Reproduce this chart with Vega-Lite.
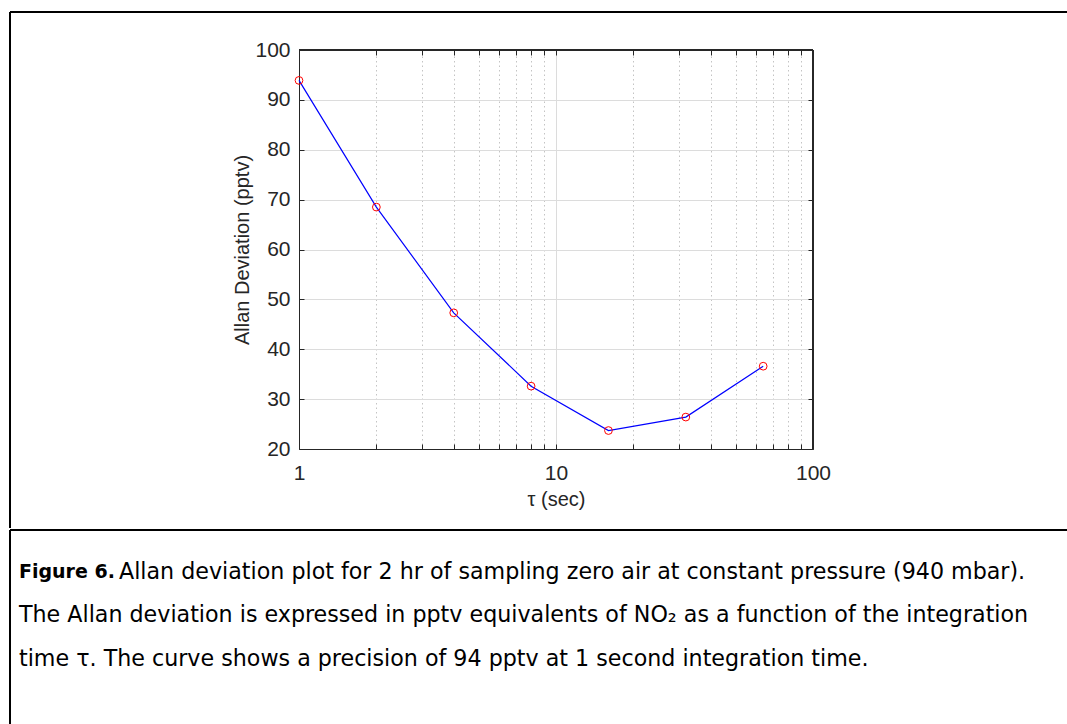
{
  "$schema": "https://vega.github.io/schema/vega-lite/v6.json",
  "background": "white",
  "padding": {"left": 9, "top": 11, "right": 0, "bottom": 0},
  "spacing": 0,
  "config": {"view": {"stroke": null}, "concat": {"spacing": 0}},
  "vconcat": [
    {
      "width": 1058,
      "height": 516,
      "view": {"stroke": "black", "strokeWidth": 2, "strokeDash": [1058, 1574, 516, 0]},
      "data": {
        "values": [
          {"tau": 1, "ad": 93.9},
          {"tau": 2, "ad": 68.5},
          {"tau": 4, "ad": 47.3},
          {"tau": 8, "ad": 32.6},
          {"tau": 16, "ad": 23.7},
          {"tau": 32, "ad": 26.4},
          {"tau": 64, "ad": 36.6}
        ]
      },
      "layer": [
        {
          "mark": {"type": "rule", "color": "#262626", "strokeWidth": 1},
          "encoding": {
            "x": {"datum": 1, "type": "quantitative", "axis": null},
            "x2": {"datum": 100},
            "y": {"datum": 100, "type": "quantitative", "axis": null}
          }
        },
        {
          "mark": {"type": "rule", "color": "#262626", "strokeWidth": 1},
          "encoding": {
            "x": {"datum": 100, "type": "quantitative", "axis": null},
            "y": {
              "datum": 20,
              "type": "quantitative",
              "scale": {"domain": [20, 100], "range": [437, 38], "nice": false, "zero": false},
              "axis": {
                "orient": "right",
                "offset": -255,
                "title": null,
                "values": [20, 30, 40, 50, 60, 70, 80, 90, 100],
                "labels": false,
                "domain": false,
                "grid": false,
                "ticks": true,
                "tickSize": -5,
                "tickColor": "#262626"
              }
            },
            "y2": {"datum": 100}
          }
        },
        {
          "mark": {"type": "line", "color": "#0000ff", "strokeWidth": 1.2},
          "encoding": {
            "x": {
              "field": "tau",
              "type": "quantitative",
              "scale": {"type": "log", "domain": [1, 100], "range": [289, 803], "nice": false},
              "axis": {
                "orient": "top",
                "offset": -38,
                "title": null,
                "values": [1, 2, 3, 4, 5, 6, 7, 8, 9, 10, 20, 30, 40, 50, 60, 70, 80, 90, 100],
                "labels": false,
                "domain": false,
                "ticks": true,
                "tickSize": -5,
                "tickColor": "#262626",
                "grid": true,
                "gridColor": {"condition": {"test": "indexof([1, 10, 100], datum.value) >= 0", "value": "#dcdcdc"}, "value": "#c4c4c4"},
                "gridDash": {"condition": {"test": "indexof([1, 10, 100], datum.value) >= 0", "value": []}, "value": [1.5, 3]},
                "gridWidth": 1
              }
            },
            "y": {
              "field": "ad",
              "type": "quantitative",
              "scale": {"domain": [20, 100], "range": [437, 38], "nice": false, "zero": false},
              "axis": {
                "title": "Allan Deviation (pptv)",
                "orient": "left",
                "offset": -289,
                "values": [20, 30, 40, 50, 60, 70, 80, 90, 100],
                "grid": true,
                "gridColor": "#dcdcdc",
                "gridWidth": 1,
                "tickSize": -5,
                "tickColor": "#262626",
                "domainColor": "#262626",
                "labelFont": "Liberation Sans",
                "labelFontSize": 21,
                "labelColor": "#262626",
                "labelPadding": 14,
                "titleFont": "Liberation Sans",
                "titleFontSize": 20,
                "titleFontWeight": "normal",
                "titleColor": "#262626",
                "titlePadding": 2
              }
            }
          }
        },
        {
          "mark": {"type": "point", "shape": "circle", "filled": false, "color": "#ff0000", "size": 60, "strokeWidth": 1, "opacity": 1},
          "encoding": {
            "x": {
              "field": "tau",
              "type": "quantitative",
              "scale": {"type": "log", "domain": [1, 100], "range": [289, 803], "nice": false},
              "axis": {
                "title": "τ (sec)",
                "orient": "bottom",
                "offset": -79,
                "values": [1, 2, 3, 4, 5, 6, 7, 8, 9, 10, 20, 30, 40, 50, 60, 70, 80, 90, 100],
                "labelExpr": "indexof([1, 10, 100], datum.value) >= 0 ? format(datum.value, 'd') : ''",
                "labelOverlap": false,
                "labelFlush": false,
                "grid": false,
                "tickSize": -5,
                "tickColor": "#262626",
                "domainColor": "#262626",
                "labelFont": "Liberation Sans",
                "labelFontSize": 21,
                "labelColor": "#262626",
                "labelPadding": 18,
                "titleFont": "Liberation Sans",
                "titleFontSize": 20,
                "titleFontWeight": "normal",
                "titleColor": "#262626",
                "titlePadding": 6
              }
            },
            "y": {"field": "ad", "type": "quantitative", "axis": null}
          }
        }
      ],
      "resolve": {"axis": {"x": "independent", "y": "independent"}}
    },
    {
      "width": 1058,
      "height": 197,
      "view": {"stroke": "black", "strokeWidth": 2, "strokeDash": [1058, 1255, 197, 0]},
      "data": {
        "values": [
          {"line": 1, "part": "bold", "text": "Figure 6."},
          {"line": 1, "part": "rest", "text": "Allan deviation plot for 2 hr of sampling zero air at constant pressure (940 mbar)."},
          {"line": 2, "part": "rest", "text": "The Allan deviation is expressed in pptv equivalents of NO₂ as a function of the integration"},
          {"line": 3, "part": "rest", "text": "time τ. The curve shows a precision of 94 pptv at 1 second integration time."}
        ]
      },
      "encoding": {
        "x": {"datum": 0, "type": "quantitative", "scale": {"domain": [0, 1]}, "axis": null},
        "y": {"field": "line", "type": "quantitative", "scale": {"domain": [0.05, 4.55], "range": [0, 197]}, "axis": null},
        "text": {"field": "text"}
      },
      "layer": [
        {
          "transform": [{"filter": "datum.part == 'bold'"}],
          "mark": {"type": "text", "align": "left", "baseline": "middle", "dx": 9, "font": "DejaVu Sans", "fontSize": 19, "fontWeight": "bold", "color": "black"}
        },
        {
          "transform": [{"filter": "datum.part == 'rest' && datum.line == 1"}],
          "mark": {"type": "text", "align": "left", "baseline": "middle", "dx": 109, "font": "DejaVu Sans", "fontSize": 22.2, "color": "black"}
        },
        {
          "transform": [{"filter": "datum.line > 1"}],
          "mark": {"type": "text", "align": "left", "baseline": "middle", "dx": 9, "font": "DejaVu Sans", "fontSize": 22.2, "color": "black"}
        }
      ]
    }
  ]
}
